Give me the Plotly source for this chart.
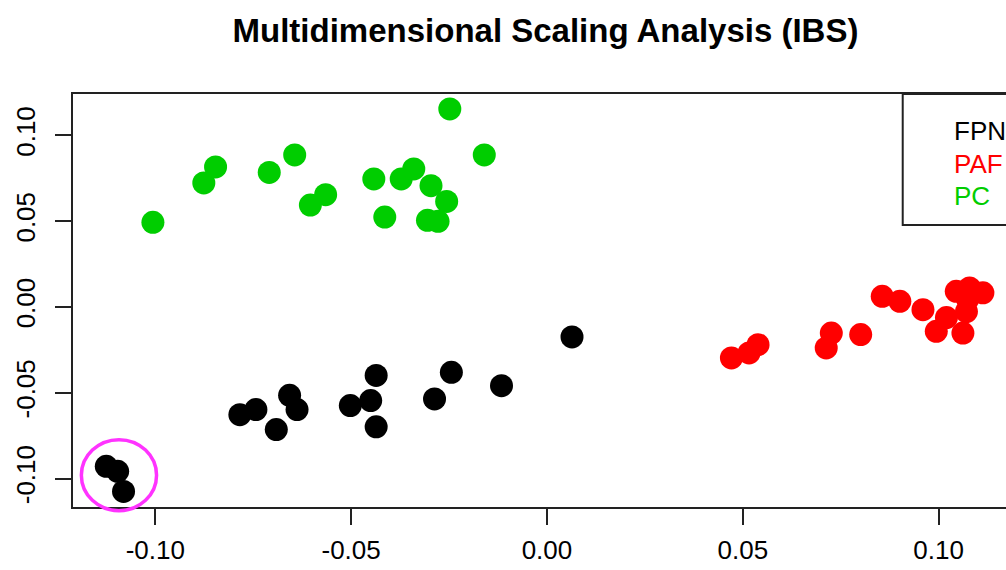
import plotly.graph_objects as go

# ---- data ----
groups = ["FPN", "PAF", "PC"]
colors = ["#000000", "#FF0000", "#00CD00"]

fpn_x = [-0.1125, -0.1096, -0.1081, -0.0784, -0.0743, -0.0691, -0.0657, -0.0638,
         -0.0502, -0.0450, -0.0436, -0.0436, -0.0287, -0.0244, -0.0116, 0.0064]
fpn_y = [-0.0929, -0.0958, -0.1075, -0.0628, -0.0598, -0.0715, -0.0515, -0.0598,
         -0.0575, -0.0546, -0.0399, -0.0699, -0.0536, -0.0381, -0.0459, -0.0175]

paf_x = [0.0471, 0.0516, 0.0539, 0.0713, 0.0726, 0.0801, 0.0856, 0.0901, 0.0960,
         0.0994, 0.1020, 0.1062, 0.1071, 0.1045, 0.1079, 0.1113, 0.1074]
paf_y = [-0.0297, -0.0268, -0.0220, -0.0239, -0.0152, -0.0161, 0.0062, 0.0033, -0.0016,
         -0.0142, -0.0062, -0.0152, -0.0027, 0.0091, 0.0111, 0.0082, 0.0043]

pc_x = [-0.1006, -0.0876, -0.0846, -0.0709, -0.0644, -0.0604, -0.0565, -0.0442, -0.0414,
        -0.0372, -0.0340, -0.0296, -0.0256, -0.0305, -0.0278, -0.0248, -0.0160]
pc_y = [0.0493, 0.0723, 0.0816, 0.0784, 0.0886, 0.0594, 0.0654, 0.0746, 0.0524,
        0.0746, 0.0804, 0.0707, 0.0615, 0.0505, 0.0499, 0.1154, 0.0886]

tick_vals = [-0.10, -0.05, 0.00, 0.05, 0.10]
tick_text = ["-0.10", "-0.05", "0.00", "0.05", "0.10"]

title = "Multidimensional Scaling Analysis (IBS)"

# axis ranges
x_range = [-0.1210, 0.1172]
y_range = [-0.1166, 0.1241]

FONT = "Liberation Sans, Arial, sans-serif"

fig = go.Figure()
for name, col, xs, ys in zip(groups, colors, [fpn_x, paf_x, pc_x], [fpn_y, paf_y, pc_y]):
    fig.add_trace(go.Scatter(
        x=xs, y=ys, mode="markers", name=name, showlegend=False,
        marker=dict(size=23, color=col, line=dict(width=0)),
        cliponaxis=False,
    ))

# highlight ellipse around the three outlying FPN samples
hx = sum(fpn_x[:3]) / 3 + 0.0008
hy = sum(fpn_y[:3]) / 3 + 0.0007
rx, ry = 0.0096, 0.0207


def px(v):
    return (v - x_range[0]) / (x_range[1] - x_range[0])


def py(v):
    return (v - y_range[0]) / (y_range[1] - y_range[0])


shapes = [
    dict(type="circle", xref="paper", yref="paper",
         x0=px(hx - rx), x1=px(hx + rx), y0=py(hy - ry), y1=py(hy + ry),
         line=dict(color="#FF33FF", width=3.5)),
    # legend box (extends past the right edge like the reference)
    dict(type="rect", xref="paper", yref="paper",
         x0=0.8893, x1=1.3, y0=0.6828, y1=1.0,
         line=dict(color="#222222", width=2)),
]

annotations = []
leg_y = [0.9104, 0.8305, 0.7530]
for name, col, yy in zip(groups, colors, leg_y):
    annotations.append(dict(
        text=name, xref="paper", yref="paper", x=0.9425, y=yy,
        xanchor="left", yanchor="middle", showarrow=False,
        font=dict(family=FONT, size=26, color=col),
    ))

fig.update_layout(
    width=1006, height=570,
    margin=dict(l=73, r=0, t=94, b=63),
    paper_bgcolor="white", plot_bgcolor="white",
    title=dict(text="<b>" + title + "</b>", x=545.5 / 1006, xref="container",
               xanchor="center", y=1 - 30 / 570, yref="container", yanchor="middle",
               font=dict(family=FONT, size=33, color="black")),
    xaxis=dict(range=x_range, showgrid=False, zeroline=False,
               showline=True, linecolor="#222222", linewidth=2, mirror=True,
               ticks="outside", ticklen=16, tickwidth=2, tickcolor="#222222",
               tickvals=tick_vals, ticktext=tick_text, ticklabelstandoff=3,
               tickfont=dict(family=FONT, size=26, color="black")),
    yaxis=dict(range=y_range, showgrid=False, zeroline=False,
               showline=True, linecolor="#222222", linewidth=2, mirror=False,
               ticks="outside", ticklen=16, tickwidth=2, tickcolor="#222222",
               tickvals=tick_vals, ticktext=tick_text, tickangle=-90,
               ticklabelstandoff=10,
               tickfont=dict(family=FONT, size=26, color="black")),
    shapes=shapes,
    annotations=annotations,
)

fig.write_html(
    "out.html",
    config={"displayModeBar": False},
    post_script="document.body.style.margin='0';document.body.style.overflow='hidden';",
)
